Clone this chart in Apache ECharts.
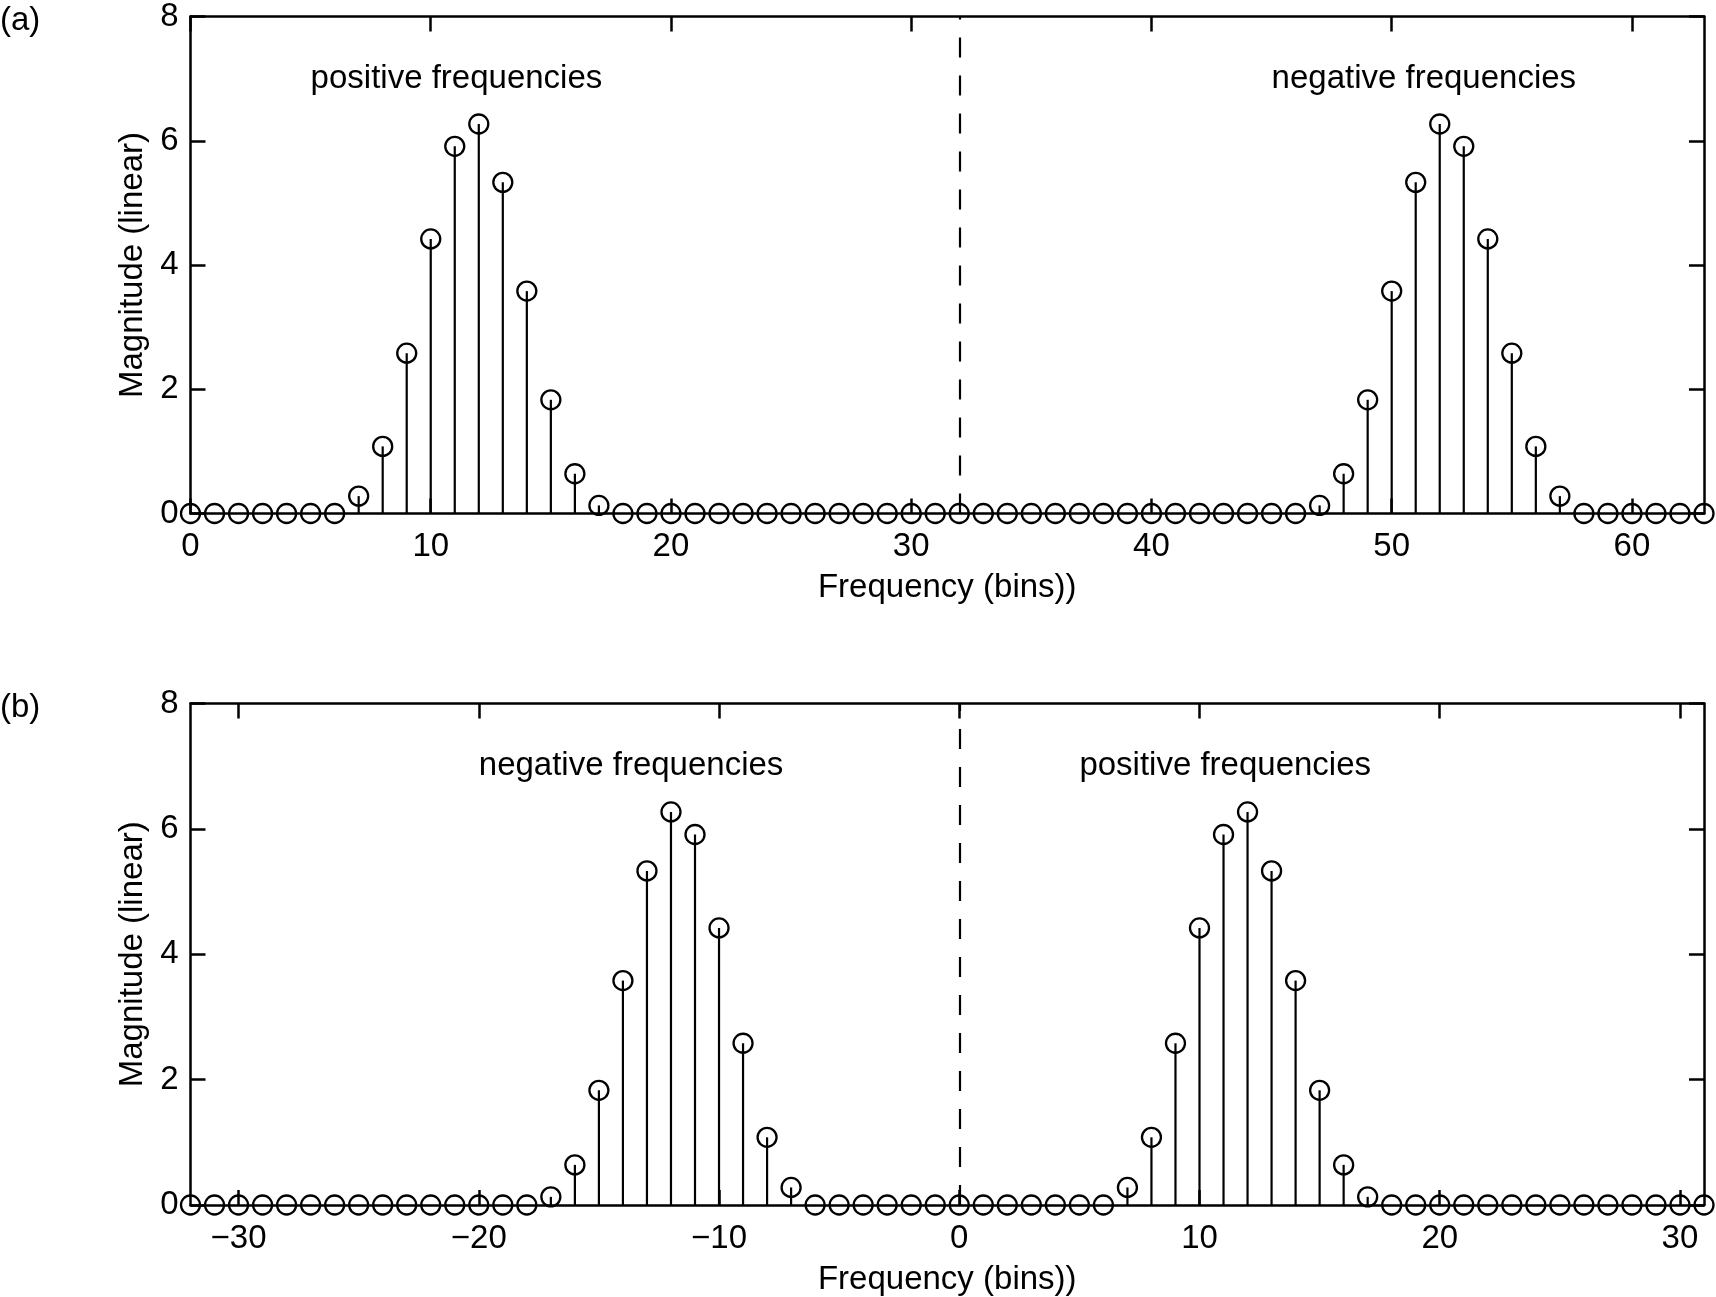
<!DOCTYPE html>
<html><head><meta charset="utf-8">
<script src="https://cdn.jsdelivr.net/npm/echarts@6/dist/echarts.min.js"></script>
<style>html,body{margin:0;padding:0;background:#fff}#c{width:1716px;height:1297px}</style>
</head><body><div id="c"></div>
<script>
// ---- data ----
const binsA = [0,1,2,3,4,5,6,7,8,9,10,11,12,13,14,15,16,17,18,19,20,21,22,23,24,25,26,27,28,29,30,31,
  32,33,34,35,36,37,38,39,40,41,42,43,44,45,46,47,48,49,50,51,52,53,54,55,56,57,58,59,60,61,62,63];
const magA = [0,0,0,0,0,0,0,0.28,1.08,2.58,4.42,5.91,6.27,5.33,3.58,1.83,0.64,0.13,
  0,0,0,0,0,0,0,0,0,0,0,0,0,0,0,0,0,0,0,0,0,0,0,0,0,0,0,0,0,
  0.13,0.64,1.83,3.58,5.33,6.27,5.91,4.42,2.58,1.08,0.28,0,0,0,0,0,0];
const binsB = [-32,-31,-30,-29,-28,-27,-26,-25,-24,-23,-22,-21,-20,-19,-18,-17,-16,-15,-14,-13,-12,-11,-10,-9,-8,-7,-6,-5,-4,-3,-2,-1,
  0,1,2,3,4,5,6,7,8,9,10,11,12,13,14,15,16,17,18,19,20,21,22,23,24,25,26,27,28,29,30,31];
const magB = [0,0,0,0,0,0,0,0,0,0,0,0,0,0,0,
  0.13,0.64,1.83,3.58,5.33,6.27,5.91,4.42,2.58,1.08,0.28,
  0,0,0,0,0,0,0,0,0,0,0,0,0,
  0.28,1.08,2.58,4.42,5.91,6.27,5.33,3.58,1.83,0.64,0.13,
  0,0,0,0,0,0,0,0,0,0,0,0,0,0];
const xTicksA = [0,10,20,30,40,50,60];
const xTicksB = [-30,-20,-10,0,10,20,30];
const yTicks = [0,2,4,6,8];
const annotA = [[5,7,'positive frequencies'],[45,7,'negative frequencies']];
const annotB = [[-20,7,'negative frequencies'],[5,7,'positive frequencies']];
const dividerA = 32, dividerB = 0;
const xRangeA = [0,63], xRangeB = [-32,31], yRange = [0,8];

// ---- styling ----
const FONT = '"Liberation Sans", Arial, Helvetica, sans-serif';
const FS = 33;
const AXW = 2.5;
const fmt = v => String(v).replace('-', '\u2212');

const grids = [
  {left:190.5, top:13.5, width:1513.5, height:500},
  {left:190.5, top:703.5, width:1513.5, height:502.5}
];
function xAxes(gi, range, ticks, main){
  return {
    type:'value', gridIndex:gi, position: main ? 'bottom':'top',
    min:range[0], max:range[1],
    axisLine:{show:true, onZero:false, lineStyle:{color:'#000', width:AXW}},
    axisTick:{show:true, inside:true, length:15, customValues:ticks, lineStyle:{color:'#000', width:AXW}},
    axisLabel:{show:main, customValues:ticks, formatter:fmt, margin:17, color:'#000', fontSize:FS, fontFamily:FONT},
    splitLine:{show:false},
    name: main ? 'Frequency (bins))' : '', nameLocation:'middle', nameGap:58,
    nameTextStyle:{color:'#000', fontSize:FS, fontFamily:FONT}
  };
}
function yAxes(gi, main){
  return {
    type:'value', gridIndex:gi, position: main ? 'left':'right',
    min:yRange[0], max:yRange[1], interval:2,
    axisLine:{show:true, onZero:false, lineStyle:{color:'#000', width:AXW}},
    axisTick:{show:true, inside:true, length:15, lineStyle:{color:'#000', width:AXW}},
    axisLabel:{show:main, margin:12, color:'#000', fontSize:FS, fontFamily:FONT},
    splitLine:{show:false},
    name: main ? 'Magnitude (linear)' : '', nameLocation:'middle', nameGap:38,
    nameTextStyle:{color:'#000', fontSize:FS, fontFamily:FONT}
  };
}
function pairs(xs, ys){ return xs.map((x,i)=>[x, ys[i]]); }
function seriesFor(xi, yi, xs, ys, divider, annot){
  return [
    {type:'bar', xAxisIndex:xi, yAxisIndex:yi, data:pairs(xs,ys), barWidth:2.2,
     itemStyle:{color:'#000', opacity:1}, silent:true, z:2},
    {type:'scatter', xAxisIndex:xi, yAxisIndex:yi, data:pairs(xs,ys), symbol:'circle', symbolSize:19,
     itemStyle:{color:'rgba(0,0,0,0)', borderColor:'#000', borderWidth:2.3, opacity:1}, silent:true, z:3,
     markLine:{silent:true, symbol:'none', label:{show:false},
       lineStyle:{color:'#000', width:2.2, type:[20,18], opacity:1},
       data:[[{coord:[divider, yRange[0]]},{coord:[divider, yRange[1]]}]]}},
    {type:'scatter', xAxisIndex:xi, yAxisIndex:yi, data:annot, symbolSize:0, silent:true, z:4,
     itemStyle:{opacity:1},
     label:{show:true, position:'right', distance:0, formatter:p=>p.data[2],
       color:'#000', fontSize:FS, fontFamily:FONT, textBorderWidth:0}}
  ];
}

const chart = echarts.init(document.getElementById('c'), null, {renderer:'canvas'});
chart.setOption({
  animation:false,
  backgroundColor:'#fff',
  grid:grids,
  xAxis:[xAxes(0,xRangeA,xTicksA,true), xAxes(0,xRangeA,xTicksA,false),
         xAxes(1,xRangeB,xTicksB,true), xAxes(1,xRangeB,xTicksB,false)],
  yAxis:[yAxes(0,true), yAxes(0,false), yAxes(1,true), yAxes(1,false)],
  graphic:[
    {type:'text', left:0, top:4, style:{text:'(a)', fill:'#000', font:FS+'px '+FONT}},
    {type:'text', left:0, top:691, style:{text:'(b)', fill:'#000', font:FS+'px '+FONT}}
  ],
  series:[].concat(
    seriesFor(0,0,binsA,magA,dividerA,annotA),
    seriesFor(2,2,binsB,magB,dividerB,annotB)
  )
});
</script></body></html>
